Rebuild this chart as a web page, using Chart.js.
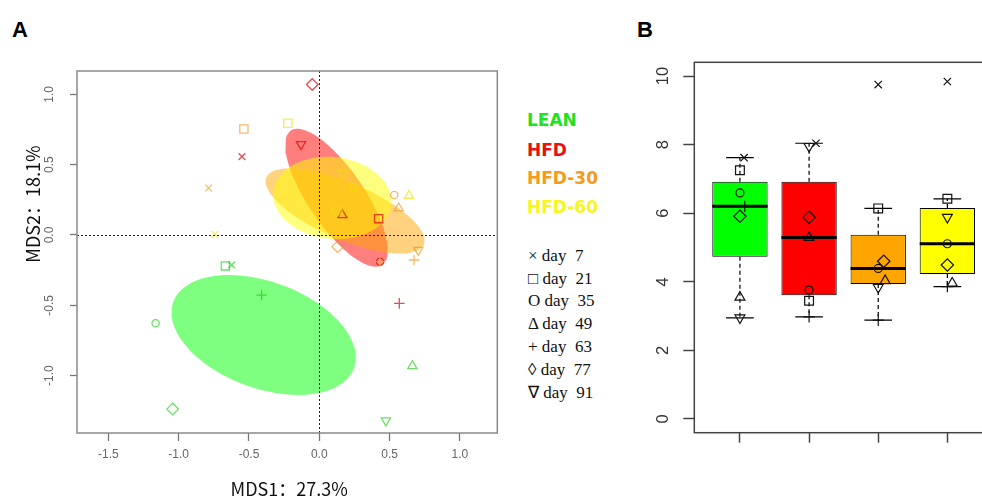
<!DOCTYPE html>
<html>
<head>
<meta charset="utf-8">
<script src="https://cdn.jsdelivr.net/npm/chart.js@4.4.1/dist/chart.umd.min.js"></script>
<style>
  html, body { margin: 0; padding: 0; background: #fff; overflow: hidden; }
  body { width: 982px; height: 497px; position: relative; }
  #wrapA { position: absolute; left: 0; top: 0; width: 510px; height: 497px; }
  #wrapB { position: absolute; left: 630px; top: 0; width: 380px; height: 497px; }
  .panel { position: absolute; top: 19px; font: bold 22px "Liberation Sans", Arial, sans-serif; line-height: 22px; }
  .grp { position: absolute; left: 527px; height: 20px; line-height: 20px; font: bold 17px "DejaVu Sans", sans-serif; }
  .day { position: absolute; left: 528px; height: 20px; line-height: 20px; font: 17px "Liberation Serif", "Times New Roman", serif; white-space: pre; color: #111; }
</style>
</head>
<body>
<div class="panel" style="left:12px">A</div>
<div class="panel" style="left:637px">B</div>
<div id="wrapA"><canvas id="mds"></canvas></div>
<div id="wrapB"><canvas id="box"></canvas></div>
<div id="legend"></div>
<script>
  // groups and sampling days
  const groups = ['LEAN', 'HFD', 'HFD-30', 'HFD-60'];
  const days = [7, 21, 35, 49, 63, 77, 91];

  // panel A: MDS coordinates, one value per day
  const leanX = [-0.623, -0.668, -1.164, 0.662, -0.41, -1.043, 0.474];
  const leanY = [-0.213, -0.22, -0.628, -0.932, -0.427, -1.238, -1.32];
  const hfdX = [-0.55, 0.422, 0.432, 0.164, 0.569, -0.05, -0.13];
  const hfdY = [0.557, 0.116, -0.19, 0.142, -0.486, 1.07, 0.645];
  const hfd30X = [-0.787, -0.536, 0.533, 0.565, 0.674, 0.131, 0.704];
  const hfd30Y = [0.334, 0.754, 0.284, 0.19, -0.178, -0.083, -0.107];
  const hfd60X = [-0.742, -0.223, 0.247, 0.638, 0.43, 0.124, 0.171];
  const hfd60Y = [0.005, 0.794, 0.341, 0.28, -0.19, 0.171, 0.443];

  // panel B: values per day
  const leanB = [7.62, 7.25, 6.59, 3.55, 6.2, 5.91, 2.95];
  const hfdB = [8.04, 3.45, 3.76, 5.29, 2.98, 5.88, 7.95];
  const hfd30B = [9.75, 6.14, 4.39, 4.03, 2.88, 4.6, 3.84];
  const hfd60B = [9.84, 6.42, 5.11, 3.96, 3.86, 4.49, 5.88];
  // small horizontal jitter of the points in panel B
  const leanJit = [0.06, 0, 0, 0, 0.07, 0, 0];
  const hfdJit = [0.1, 0, 0, 0, 0, 0, 0];
  const hfd30Jit = [0, 0, 0, 0.1, 0, 0.08, 0];
  const hfd60Jit = [0, 0, 0, 0.07, 0, 0, 0];

  // tick labels
  const xTicksA = ['-1.5', '-1.0', '-0.5', '0.0', '0.5', '1.0'];
  const yTicksA = ['-1.0', '-0.5', '0.0', '0.5', '1.0'];
  const yTicksB = ['0', '2', '4', '6', '8', '10'];

  const mdsX = [leanX, hfdX, hfd30X, hfd60X];
  const mdsY = [leanY, hfdY, hfd30Y, hfd60Y];
  const valsB = [leanB, hfdB, hfd30B, hfd60B];
  const jitB = [leanJit, hfdJit, hfd30Jit, hfd60Jit];

  const daySymbols = ['crossRot', 'rect', 'circle', 'triangle', 'cross', 'rectRot', 'triangle'];
  const dayRotation = [0, 0, 0, 0, 0, 0, 180];
  const dayRadius = [4.8, 5.8, 3.6, 5.3, 5.3, 5.8, 5.3];
  const dayGlyph = ['×', '□', 'O', 'Δ', '+', '◊', '∇'];

  const textColors = ['#1ee21e', '#e81010', '#f59a1a', '#f8f51e'];
  const pointColors = ['rgba(0,205,0,0.6)', 'rgba(220,0,0,0.7)', 'rgba(240,140,0,0.6)', 'rgba(240,225,0,0.65)'];
  const fillColors = ['rgba(0,255,0,0.5)', 'rgba(255,0,0,0.5)', 'rgba(255,165,0,0.5)', 'rgba(255,255,0,0.5)'];
  const boxColors = ['#00ff00', '#ff0000', '#ffa500', '#ffff00'];

  // legend text
  const legend = document.getElementById('legend');
  const grpY = [120, 150, 178, 207];
  groups.forEach((g, i) => {
    const d = document.createElement('div');
    d.className = 'grp';
    d.style.top = (grpY[i] - 10) + 'px';
    d.style.color = textColors[i];
    d.textContent = g;
    legend.appendChild(d);
  });
  days.forEach((d, i) => {
    const el = document.createElement('div');
    el.className = 'day';
    el.style.top = (256 + i * 22.7 - 10) + 'px';
    el.textContent = dayGlyph[i] + ' day  ' + d;
    legend.appendChild(el);
  });

  // 95% standard-error ellipse of a group (like vegan::ordiellipse kind="se")
  function seEllipse(xs, ys) {
    const n = xs.length;
    const mx = xs.reduce((a, b) => a + b, 0) / n;
    const my = ys.reduce((a, b) => a + b, 0) / n;
    let sxx = 0, syy = 0, sxy = 0;
    for (let i = 0; i < n; i++) {
      sxx += (xs[i] - mx) ** 2;
      syy += (ys[i] - my) ** 2;
      sxy += (xs[i] - mx) * (ys[i] - my);
    }
    sxx /= n - 1; syy /= n - 1; sxy /= n - 1;
    const k = Math.sqrt(5.991 / n);
    const tr = sxx + syy, det = sxx * syy - sxy * sxy;
    const r = Math.sqrt(Math.max(tr * tr / 4 - det, 0));
    const l1 = tr / 2 + r, l2 = tr / 2 - r;
    const th = Math.atan2(l1 - sxx, sxy);
    const a = k * Math.sqrt(l1), b = k * Math.sqrt(Math.max(l2, 0));
    const pts = [];
    for (let t = 0; t <= 120; t++) {
      const ang = t / 120 * Math.PI * 2;
      const u = a * Math.cos(ang), v = b * Math.sin(ang);
      pts.push({ x: mx + u * Math.cos(th) - v * Math.sin(th), y: my + u * Math.sin(th) + v * Math.cos(th) });
    }
    return pts;
  }

  // R style boxplot stats (fivenum hinges, 1.5 IQR whiskers)
  function boxStats(vals) {
    const s = [...vals].sort((a, b) => a - b);
    const n = s.length;
    const n4 = Math.floor((n + 3) / 2) / 2;
    const at = p => 0.5 * (s[Math.floor(p) - 1] + s[Math.ceil(p) - 1]);
    const q1 = at(n4), med = at((n + 1) / 2), q3 = at(n + 1 - n4);
    const iqr = q3 - q1;
    const lo = s.find(v => v >= q1 - 1.5 * iqr);
    const hi = [...s].reverse().find(v => v <= q3 + 1.5 * iqr);
    return { q1, med, q3, lo, hi };
  }

  const ellipseSets = groups.map((g, i) => ({
    type: 'scatter',
    data: seEllipse(mdsX[i], mdsY[i]),
    showLine: true,
    fill: 'shape',
    backgroundColor: fillColors[i],
    borderWidth: 0,
    borderColor: 'transparent',
    pointRadius: 0,
    tension: 0,
    order: 20 - i
  }));
  const pointSets = groups.map((g, i) => ({
    type: 'scatter',
    label: g,
    data: mdsX[i].map((x, j) => ({ x, y: mdsY[i][j] })),
    pointStyle: daySymbols,
    rotation: dayRotation,
    pointRadius: dayRadius,
    borderColor: pointColors[i],
    backgroundColor: 'transparent',
    borderWidth: 1.3,
    order: 5 - i
  }));

  const fixTicks = vals => scale => { scale.ticks = vals.map(v => ({ value: parseFloat(v) })); };

  const frameA = {
    id: 'frameA',
    afterDatasetsDraw(chart) {
      const { ctx, chartArea: ca, scales: { x, y } } = chart;
      ctx.save();
      ctx.strokeStyle = '#222';
      ctx.lineWidth = 1;
      ctx.setLineDash([2, 2]);
      ctx.beginPath();
      const x0 = Math.round(x.getPixelForValue(0)) + 0.5, y0 = Math.round(y.getPixelForValue(0)) + 0.5;
      ctx.moveTo(x0, ca.top); ctx.lineTo(x0, ca.bottom);
      ctx.moveTo(ca.left, y0); ctx.lineTo(ca.right, y0);
      ctx.stroke();
      ctx.setLineDash([]);
      ctx.strokeStyle = '#8a8a8a';
      ctx.lineWidth = 1.5;
      ctx.strokeRect(ca.left, ca.top, ca.right - ca.left, ca.bottom - ca.top);
      // rotated y tick labels
      ctx.fillStyle = '#666';
      ctx.font = '12px "Liberation Sans", Arial, sans-serif';
      ctx.textAlign = 'center';
      ctx.textBaseline = 'middle';
      yTicksA.forEach(t => {
        ctx.save();
        ctx.translate(50, y.getPixelForValue(parseFloat(t)));
        ctx.rotate(-Math.PI / 2);
        ctx.fillText(t, 0, 0);
        ctx.restore();
      });
      // axis titles
      ctx.fillStyle = '#111';
      ctx.font = '18px "Noto Sans CJK SC", "Noto Sans", sans-serif';
      ctx.fillText('MDS1：27.3%', (ca.left + ca.right) / 2 + 2, 489);
      ctx.save();
      ctx.translate(33, 204);
      ctx.rotate(-Math.PI / 2);
      ctx.fillText('MDS2：18.1%', 0, 0);
      ctx.restore();
      ctx.restore();
    }
  };

  new Chart(document.getElementById('mds'), {
    type: 'scatter',
    data: { datasets: [...pointSets, ...ellipseSets] },
    options: {
      responsive: true,
      maintainAspectRatio: false,
      animation: false,
      layout: { padding: { left: 0, top: 71, right: 12.7, bottom: 0 } },
      plugins: { legend: { display: false }, tooltip: { enabled: false } },
      scales: {
        x: {
          type: 'linear', min: -1.723, max: 1.266,
          afterBuildTicks: fixTicks(xTicksA),
          afterFit: s => { s.height = 64; },
          grid: { drawOnChartArea: false, tickLength: 8, tickColor: '#777', tickWidth: 1.3 },
          border: { display: false },
          ticks: { autoSkip: false, maxRotation: 0, padding: 6, color: '#666',
            font: { family: '"Liberation Sans", Arial, sans-serif', size: 12 },
            callback: (v, i) => xTicksA[i] }
        },
        y: {
          type: 'linear', min: -1.408, max: 1.166,
          afterBuildTicks: fixTicks(yTicksA),
          afterFit: s => { s.width = 77; },
          grid: { drawOnChartArea: false, tickLength: 7, tickColor: '#777', tickWidth: 1.3 },
          border: { display: false },
          ticks: { color: 'transparent', callback: () => '' }
        }
      }
    },
    plugins: [frameA]
  });

  // panel B
  const stats = valsB.map(boxStats);

  const boxExtras = {
    id: 'boxExtras',
    afterDatasetDraw(chart, args) {
      if (args.index !== 0) return;
      const { ctx, scales: { y } } = chart;
      const bars = chart.getDatasetMeta(0).data;
      ctx.save();
      stats.forEach((s, i) => {
        const bar = bars[i];
        const cx = bar.x, w = bar.width;
        ctx.strokeStyle = '#000';
        ctx.lineWidth = 1.2;
        ctx.setLineDash([4, 3]);
        ctx.beginPath();
        ctx.moveTo(cx, y.getPixelForValue(s.q3)); ctx.lineTo(cx, y.getPixelForValue(s.hi));
        ctx.moveTo(cx, y.getPixelForValue(s.q1)); ctx.lineTo(cx, y.getPixelForValue(s.lo));
        ctx.stroke();
        ctx.setLineDash([]);
        ctx.beginPath();
        ctx.moveTo(cx - w / 4, y.getPixelForValue(s.hi)); ctx.lineTo(cx + w / 4, y.getPixelForValue(s.hi));
        ctx.moveTo(cx - w / 4, y.getPixelForValue(s.lo)); ctx.lineTo(cx + w / 4, y.getPixelForValue(s.lo));
        ctx.stroke();
        ctx.lineWidth = 3;
        ctx.beginPath();
        ctx.moveTo(cx - w / 2, y.getPixelForValue(s.med)); ctx.lineTo(cx + w / 2, y.getPixelForValue(s.med));
        ctx.stroke();
      });
      ctx.restore();
    },
    afterDatasetsDraw(chart) {
      const { ctx, chartArea: ca, scales: { y } } = chart;
      ctx.save();
      ctx.strokeStyle = '#444';
      ctx.lineWidth = 1.5;
      ctx.strokeRect(ca.left, ca.top, ca.right - ca.left, ca.bottom - ca.top);
      ctx.fillStyle = '#333';
      ctx.font = '16.5px "Liberation Sans", Arial, sans-serif';
      ctx.textAlign = 'center';
      ctx.textBaseline = 'middle';
      yTicksB.forEach(t => {
        ctx.save();
        ctx.translate(33, y.getPixelForValue(parseFloat(t)));
        ctx.rotate(-Math.PI / 2);
        ctx.fillText(t, 0, 0);
        ctx.restore();
      });
      ctx.restore();
    }
  };

  new Chart(document.getElementById('box'), {
    type: 'bar',
    data: {
      datasets: [
        {
          type: 'bar',
          data: stats.map((s, i) => ({ x: i + 1, y: [s.q1, s.q3] })),
          backgroundColor: boxColors,
          borderColor: '#000',
          borderWidth: 1,
          borderSkipped: false,
          barPercentage: 0.8,
          categoryPercentage: 1,
          order: 10
        },
        ...groups.map((g, i) => ({
          type: 'scatter',
          label: g,
          data: valsB[i].map((v, j) => ({ x: i + 1 + jitB[i][j], y: v })),
          pointStyle: daySymbols,
          rotation: dayRotation,
          pointRadius: dayRadius.map(r => r + 0.4),
          borderColor: '#111',
          backgroundColor: 'transparent',
          borderWidth: 1.2,
          order: 1
        }))
      ]
    },
    options: {
      responsive: true,
      maintainAspectRatio: false,
      animation: false,
      layout: { padding: { left: 0, top: 62.3, right: 17, bottom: 0 } },
      plugins: { legend: { display: false }, tooltip: { enabled: false } },
      scales: {
        x: {
          type: 'linear', min: 0.34, max: 4.66, offset: false,
          afterBuildTicks: fixTicks(['1', '2', '3', '4']),
          afterFit: s => { s.height = 64.3; },
          grid: { offset: false, drawOnChartArea: false, tickLength: 10, tickColor: '#444', tickWidth: 1.5 },
          border: { display: false },
          ticks: { color: 'transparent', callback: () => '' }
        },
        y: {
          type: 'linear', min: -0.4, max: 10.4,
          afterBuildTicks: fixTicks(yTicksB),
          afterFit: s => { s.width = 64.3; },
          grid: { drawOnChartArea: false, tickLength: 11, tickColor: '#444', tickWidth: 1.5 },
          border: { display: false },
          ticks: { color: 'transparent', callback: () => '' }
        }
      }
    },
    plugins: [boxExtras]
  });
</script>
</body>
</html>
